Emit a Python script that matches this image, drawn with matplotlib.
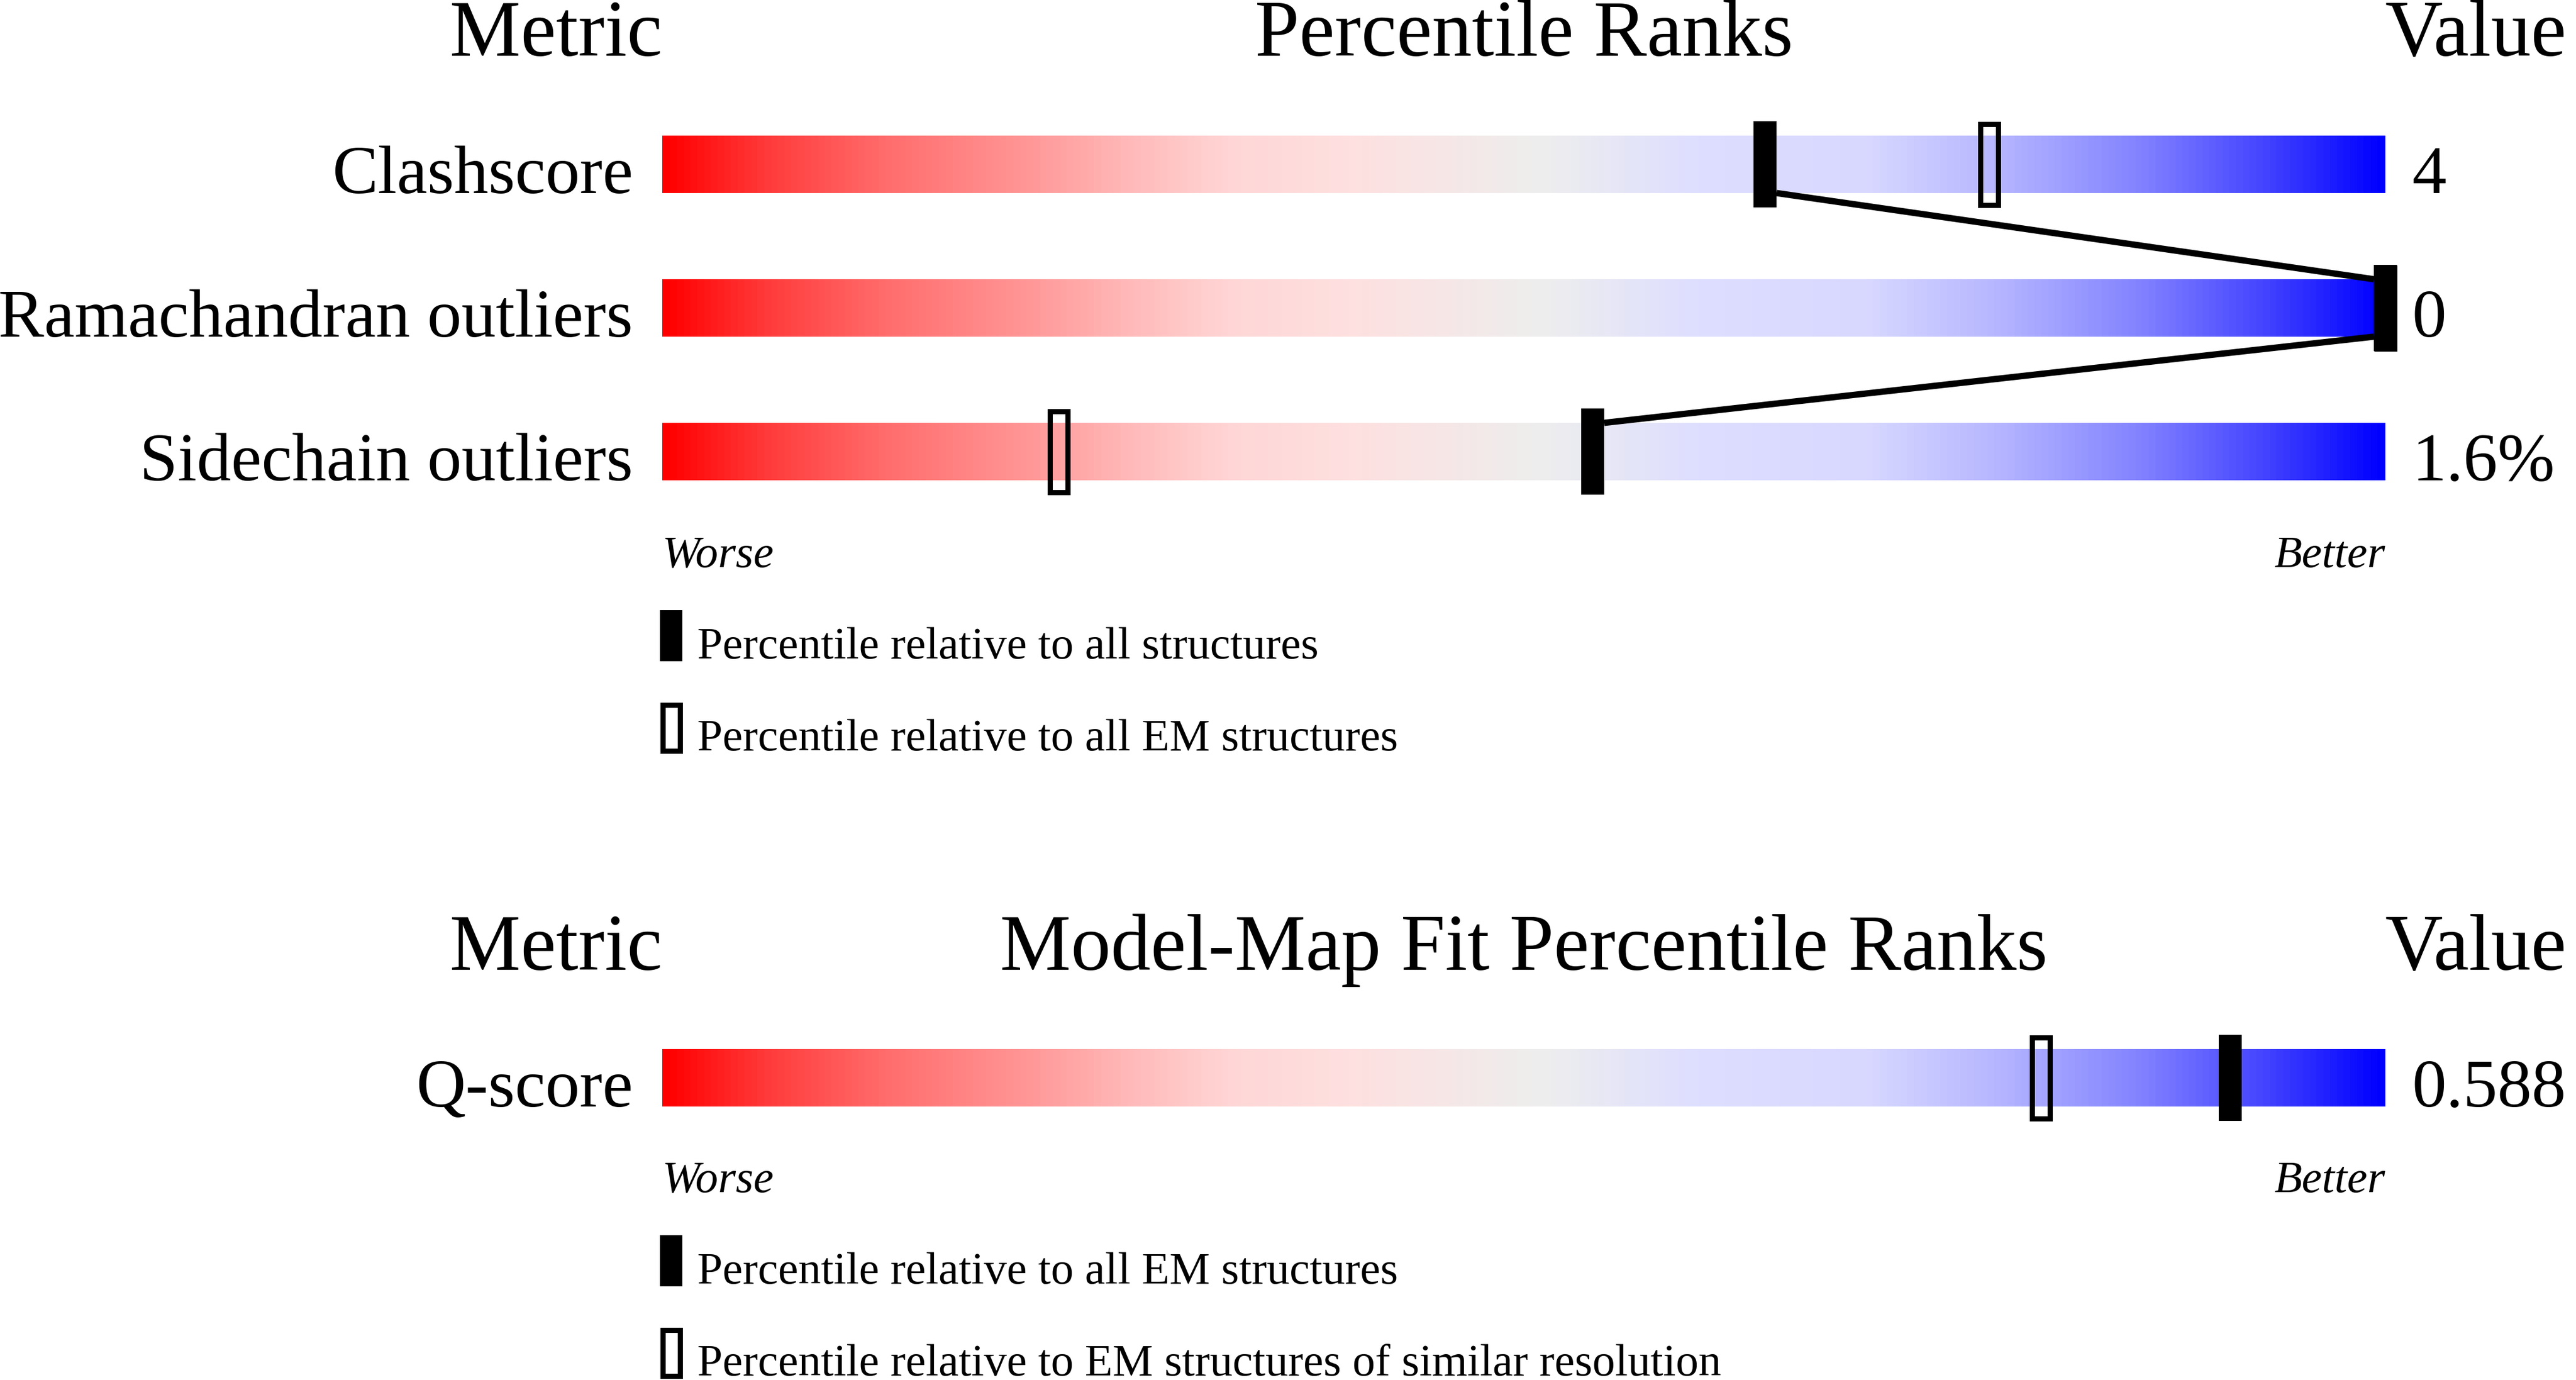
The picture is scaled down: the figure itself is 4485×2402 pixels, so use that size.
import numpy as np
import matplotlib
matplotlib.use("Agg")
import matplotlib.pyplot as plt
from matplotlib.colors import LinearSegmentedColormap
from matplotlib.patches import Rectangle

plt.rcParams['font.family'] = ['Liberation Serif', 'DejaVu Serif']

# validation metrics (top panel)
metrics = ["Clashscore", "Ramachandran outliers", "Sidechain outliers"]
metric_values = ["4", "0", "1.6%"]
pct_all = [64, 100, 54]        # relative to all structures
pct_all_em = [77, 100, 23]     # relative to all EM structures

# model-map fit (bottom panel)
fit_metrics = ["Q-score"]
fit_values = ["0.588"]
fit_pct_em = [91]              # relative to all EM structures
fit_pct_res = [80]             # relative to EM structures of similar resolution

legend_top = ["Percentile relative to all structures",
              "Percentile relative to all EM structures"]
legend_bottom = ["Percentile relative to all EM structures",
                 "Percentile relative to EM structures of similar resolution"]

# slider colours: red -> pink -> grey -> lavender -> blue
stops = [(0.00, (255, 0, 0)), (0.06, (255, 60, 60)), (0.13, (255, 110, 110)),
         (0.20, (255, 145, 145)), (0.27, (255, 185, 185)), (0.33, (255, 214, 214)),
         (0.40, (254, 224, 224)), (0.51, (238, 238, 238)), (0.60, (222, 222, 255)),
         (0.70, (216, 216, 255)), (0.78, (180, 180, 255)), (0.86, (130, 130, 255)),
         (0.93, (70, 70, 255)), (1.00, (0, 0, 255))]
cmap = LinearSegmentedColormap.from_list(
    "slider", [(p, tuple(c / 255 for c in rgb)) for p, rgb in stops])

W, H = 4485, 2402
fig = plt.figure(figsize=(W / 100, H / 100), dpi=100)
ax = fig.add_axes([0, 0, 1, 1])
# x axis in percentile units, bar spans 1153..4153 px; y axis in pixels from top
x0, span = 1153, 3000
ax.set_xlim(-x0 / span * 100, (W - x0) / span * 100)
ax.set_ylim(H, 0)
ax.axis('off')

px = 100 / span                 # one pixel in percentile units
bar_h, mark_h, mark_w = 100, 150, 40 * px
lw_px = 9
grad = np.linspace(0, 1, 600).reshape(1, -1)

big, mid, small = 100, 86, 57


def hollow(x, yc, w, h):
    return Rectangle((x - (w - lw_px * px) / 2, yc - (h - lw_px) / 2),
                     w - lw_px * px, h - lw_px, fill=False, edgecolor='black',
                     linewidth=lw_px * 0.72, zorder=4)


def panel(title, names, vals, rows, solid, open_, head_y, worse_y, leg_y, leg_txt, connect):
    ax.text(0, head_y, "Metric", fontsize=big, ha='right', va='baseline')
    ax.text(50, head_y, title, fontsize=big, ha='center', va='baseline')
    ax.text(100, head_y, "Value", fontsize=big, ha='left', va='baseline')
    for name, val, yc, p_s, p_o in zip(names, vals, rows, solid, open_):
        ax.imshow(grad, cmap=cmap, aspect='auto', interpolation='bilinear',
                  extent=(0, 100, yc + bar_h / 2, yc - bar_h / 2), zorder=1)
        ax.text(-51 * px, yc + bar_h / 2, name, fontsize=mid, ha='right', va='baseline')
        ax.text(100 + 47 * px, yc + bar_h / 2, val, fontsize=mid, ha='left', va='baseline')
        ax.add_patch(hollow(p_o, yc, mark_w, mark_h))
        ax.add_patch(Rectangle((p_s - mark_w / 2, yc - mark_h / 2), mark_w, mark_h,
                               facecolor='black', edgecolor='none', zorder=5))
    if connect:
        for i in range(len(rows) - 1):
            a, b = solid[i], solid[i + 1]
            s = np.sign(b - a) if b != a else 1
            ax.plot([a + s * mark_w / 2, b - s * mark_w / 2],
                    [rows[i] + bar_h / 2, rows[i + 1] - bar_h / 2],
                    color='black', lw=11 * 0.72, solid_capstyle='butt', zorder=3)
    ax.text(0, worse_y, "Worse", fontsize=small, style='italic', ha='left', va='baseline')
    ax.text(100, worse_y, "Better", fontsize=small, style='italic', ha='right', va='baseline')
    # legend
    lw_leg, lh = 39 * px, 89
    ax.add_patch(Rectangle((-4 * px, leg_y[0]), lw_leg, lh,
                           facecolor='black', edgecolor='none'))
    ax.add_patch(hollow(-4 * px + lw_leg / 2, leg_y[1] + lh / 2, lw_leg, lh))
    for ly, txt in zip(leg_y, leg_txt):
        ax.text(61 * px, ly + 84, txt, fontsize=small, ha='left', va='baseline')


panel("Percentile Ranks", metrics, metric_values, [286, 536, 786],
      pct_all, pct_all_em, 97, 987, [1062, 1222], legend_top, True)
panel("Model-Map Fit Percentile Ranks", fit_metrics, fit_values, [1876],
      fit_pct_em, fit_pct_res, 1688, 2075, [2150, 2310], legend_bottom, False)

fig.savefig("out.png", dpi=100, facecolor='white')
